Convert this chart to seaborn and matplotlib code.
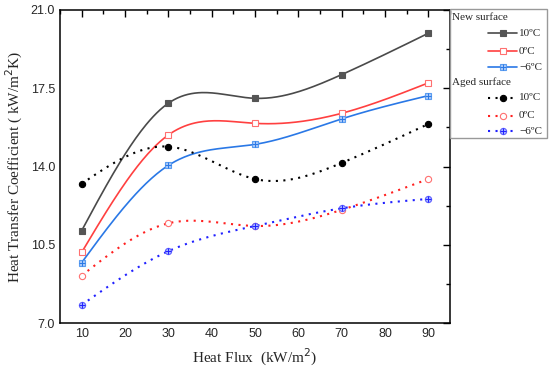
import numpy as np
import pandas as pd
import matplotlib
matplotlib.use("Agg")
import matplotlib.pyplot as plt
from matplotlib.lines import Line2D
from matplotlib.patches import Rectangle
from matplotlib.ticker import MultipleLocator
import seaborn as sns

# data
heat_flux = [10, 30, 50, 70, 90]
new_10 = [11.13, 16.83, 17.05, 18.11, 19.96]
new_0 = [10.16, 15.41, 15.93, 16.38, 17.74]
new_m6 = [9.70, 14.05, 14.99, 16.13, 17.17]
aged_10 = [13.23, 14.89, 13.44, 14.16, 15.90]
aged_0 = [9.12, 11.46, 11.34, 12.06, 13.44]
aged_m6 = [7.81, 10.21, 11.34, 12.13, 12.55]
y_ticks = [7.0, 10.5, 14.0, 17.5, 21.0]

DOTS = (0, (1, 2.6))


def natural_spline(x, y, n=200):
    # natural cubic spline through the points, just for the drawn connector
    x = np.asarray(x, float)
    y = np.asarray(y, float)
    k = len(x)
    h = np.diff(x)
    A = np.zeros((k, k))
    b = np.zeros(k)
    A[0, 0] = A[-1, -1] = 1
    for i in range(1, k - 1):
        A[i, i - 1] = h[i - 1]
        A[i, i] = 2 * (h[i - 1] + h[i])
        A[i, i + 1] = h[i]
        b[i] = 6 * ((y[i + 1] - y[i]) / h[i] - (y[i] - y[i - 1]) / h[i - 1])
    M = np.linalg.solve(A, b)
    xs = np.linspace(x[0], x[-1], n)
    idx = np.clip(np.searchsorted(x, xs) - 1, 0, k - 2)
    x0, x1 = x[idx], x[idx + 1]
    hh = x1 - x0
    t0, t1 = x1 - xs, xs - x0
    ys = (M[idx] * t0**3 + M[idx + 1] * t1**3) / (6 * hh) \
        + (y[idx] / hh - M[idx] * hh / 6) * t0 \
        + (y[idx + 1] / hh - M[idx + 1] * hh / 6) * t1
    return xs, ys


series = [
    # label, values, line colour, linestyle, marker, face, edge
    ("10ºC", new_10, "#4a4a4a", "-", "s", "#555555", "#555555"),
    ("0ºC", new_0, "#ff4040", "-", "s", "white", "#ff7070"),
    ("\u22126ºC", new_m6, "#2a78e6", "-", "s", "#a8c8f8", "#5a9cf0"),
    ("10ºC", aged_10, "black", DOTS, "o", "black", "black"),
    ("0ºC", aged_0, "#ff2020", DOTS, "o", "white", "#ff7070"),
    ("\u22126ºC", aged_m6, "#2020ff", DOTS, "o", "#a8b8ff", "#6060ff"),
]

sns.set_style("white")
plt.rcParams["font.family"] = ["Liberation Serif", "DejaVu Serif"]

fig = plt.figure(figsize=(5.5, 3.79), dpi=100)
ax = fig.add_axes([60 / 550, 1 - 323 / 379, 390 / 550, 313 / 379])

for label, vals, col, ls, mk, fc, ec in series:
    xs, ys = natural_spline(heat_flux, vals)
    sns.lineplot(x=xs, y=ys, ax=ax, color=col, linestyle=ls,
                 linewidth=1.2 if ls == "-" else 1.5, sort=False)
    ax.plot(heat_flux, vals, linestyle="none", marker=mk, markersize=4.5,
            markerfacecolor=fc, markeredgecolor=ec, markeredgewidth=0.8)
    if label.startswith("\u2212"):
        ax.plot(heat_flux, vals, linestyle="none", marker="+", markersize=4,
                color=col, markeredgewidth=0.7)

ax.set_xlim(5, 95)
ax.set_ylim(7, 21)
ax.set_xticks(range(10, 91, 10))
ax.xaxis.set_minor_locator(MultipleLocator(5))
ax.set_yticks(y_ticks)
ax.set_yticklabels([f"{v:.1f}" for v in y_ticks])
ax.yaxis.set_minor_locator(MultipleLocator(1.75))
ax.tick_params(which="both", direction="in", top=True, right=True,
               color="black", width=1)
ax.tick_params(which="major", length=5)
ax.tick_params(which="minor", length=3)
for lab in ax.get_xticklabels() + ax.get_yticklabels():
    lab.set_family("Liberation Sans")
    lab.set_fontsize(9)
for sp in ax.spines.values():
    sp.set_color("black")
    sp.set_linewidth(1.1)

ax.set_xlabel("Heat Flux  (kW/m$^2$)", fontsize=11, labelpad=5)
ax.set_ylabel("Heat Transfer Coefficient ( kW/m$^2$K)", fontsize=11, labelpad=4)

# legend drawn by hand, to get left aligned group headers
def fx(px):
    return px / 550


def fy(py):
    return 1 - py / 379


fig.add_artist(Rectangle((fx(450), fy(138)), fx(547) - fx(450), fy(9) - fy(138),
                         transform=fig.transFigure, fill=False,
                         edgecolor="#999999", linewidth=1))
fig.text(fx(452), fy(18), "New surface", fontsize=8, va="center", ha="left")
fig.text(fx(452), fy(82), "Aged surface", fontsize=8, va="center", ha="left")
rows = [33, 51, 67, 98, 116, 131]
for (label, vals, col, ls, mk, fc, ec), py in zip(series, rows):
    fig.add_artist(Line2D([fx(488), fx(517)], [fy(py), fy(py)],
                          transform=fig.transFigure, color=col, linestyle=ls,
                          linewidth=1.2 if ls == "-" else 1.5))
    fig.add_artist(Line2D([fx(502.5)], [fy(py)], transform=fig.transFigure,
                          linestyle="none", marker=mk, markersize=4.5,
                          markerfacecolor=fc, markeredgecolor=ec,
                          markeredgewidth=0.8))
    if label.startswith("\u2212"):
        fig.add_artist(Line2D([fx(502.5)], [fy(py)], transform=fig.transFigure,
                              linestyle="none", marker="+", markersize=4,
                              color=col, markeredgewidth=0.7))
    fig.text(fx(519), fy(py), label, fontsize=8, va="center", ha="left")

fig.savefig("out.png", dpi=100)
